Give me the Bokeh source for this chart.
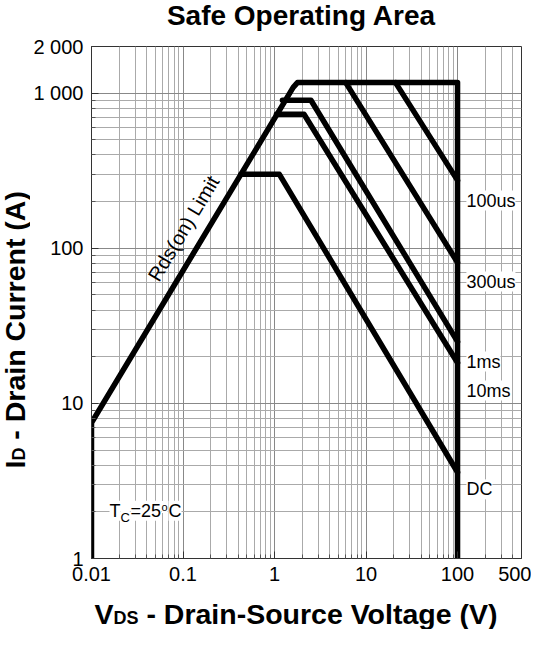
import math
from bokeh.plotting import figure
from bokeh.layouts import column, row
from bokeh.models import FixedTicker, Label
from bokeh.core.properties import value
from bokeh.embed import file_html
from bokeh.resources import INLINE

# ---------------- data ----------------
# outer envelope: left edge, Rds(on) limit, current limit, 100 V limit
env_v = [0.01, 0.01, 1.6, 1.78, 100, 100]
env_i = [1, 7.5, 1090, 1170, 1170, 1]
us100_v = [21, 100]
us100_i = [1170, 274]
us300_v = [6, 100]
us300_i = [1170, 81]
ms1_v = [1.22, 2.5, 100]
ms1_i = [900, 900, 25]
ms10_v = [1.05, 2.1, 100]
ms10_i = [732, 732, 18.3]
dc_v = [0.43, 1.13, 100]
dc_i = [300, 300, 3.6]

curve_names = ["100us", "300us", "1ms", "10ms", "DC"]
curve_label_v = [125, 125, 125, 125, 125]
curve_label_i = [203, 61, 18.6, 12.1, 2.79]

x_ticks = [0.01, 0.1, 1, 10, 100, 500]
x_tick_labels = ["0.01", "0.1", "1", "10", "100", "500"]
y_ticks = [1, 10, 100, 1000, 2000]
y_tick_labels = ["1", "10", "100", "1 000", "2 000"]
x_minor = [k * 10.0 ** e for e in range(-2, 2) for k in range(2, 10)] + [200, 300, 400]
y_minor = [k * 10.0 ** e for e in range(0, 3) for k in range(2, 10)]

title_text = "Safe Operating Area"
# (text, is_subscript, gap before in em of the main font)
x_title = [("V", 0, 0), ("DS", 1, 0), ("- Drain-Source Voltage (V)", 0, 0.278)]
y_title = [("I", 0, 0), ("D", 1, 0), ("- Drain Current (A)", 0, 0.278)]

# ---------------- layout (page px, 8 px body margin) ----------------
FONT = "Liberation Sans"
TOTAL_W, TOTAL_H = 531, 629
TITLE_H = 33
YT_W = 30
FRAME_W, FRAME_H = 430, 512
P_TOP, P_BOTTOM = 13, 32
P_LEFT = 99 - 8 - YT_W
P_W = TOTAL_W - YT_W
P_H = P_TOP + FRAME_H + P_BOTTOM
XT_H = TOTAL_H - TITLE_H - P_H
X0, X1, Y0, Y1 = 0.01, 500, 1, 2000
PX_DEC_X = FRAME_W / math.log10(X1 / X0)
PX_DEC_Y = FRAME_H / math.log10(Y1 / Y0)
FL_PAGE = 8 + YT_W + P_LEFT
FB_PAGE = 8 + TITLE_H + P_TOP + FRAME_H
MID = 0.3465   # em offset from baseline to the middle of the text box


def xd(px):  # page px -> data x
    return 10 ** (math.log10(X0) + (px - FL_PAGE) / PX_DEC_X)


def yd(py):  # page px -> data y
    return 10 ** (math.log10(Y0) + (FB_PAGE - py) / PX_DEC_Y)


def text_fig(w, h):
    f = figure(frame_width=w, frame_height=h, x_range=(0, w), y_range=(0, h),
               min_border=0, x_axis_location=None, y_axis_location=None,
               toolbar_location=None, output_backend="svg", title=None)
    f.outline_line_color = None
    f.xgrid.visible = False
    f.ygrid.visible = False
    return f


BOLD = {" ": 278, "-": 333, "(": 333, ")": 333, "A": 722, "C": 722, "D": 722, "I": 278,
        "S": 667, "V": 667, "a": 556, "c": 556, "e": 556, "g": 611, "i": 278, "l": 278,
        "n": 611, "o": 611, "r": 389, "t": 333, "u": 611}


def bw(s, fs):
    return sum(BOLD.get(c, 556) for c in s) * fs / 1000.0


SUB = 18

# ---- title figure ----
TFS = 28
tf = text_fig(TOTAL_W, TITLE_H)
t_mid = 33 - MID * TFS
tf.text(x=[309 - 8], y=[TITLE_H - (t_mid - 8)], text=[title_text],
        text_font=value(FONT), text_font_size=value(f"{TFS}px"), text_font_style="bold",
        text_color="black", text_align="center", text_baseline="middle")

# ---- y title figure ----
YBIG = 28.5
yf = text_fig(YT_W, P_H)
top_page = 8 + TITLE_H
py = 463
for txt, sub, gap in y_title:
    fs = SUB if sub else YBIG
    py -= gap * YBIG
    base_x = 32 + (1 if sub else 0)
    mid_x = base_x - MID * fs
    yf.text(x=[mid_x - 8], y=[P_H - (py - top_page)], text=[txt], angle=[math.pi / 2],
            text_font=value(FONT), text_font_size=value(f"{fs}px"), text_font_style="bold",
            text_color="black", text_align="left", text_baseline="middle")
    py -= bw(txt, fs)

# ---- x title figure ----
XBIG = 28.5
xf = text_fig(TOTAL_W, XT_H)
xt_top = 8 + TITLE_H + P_H
px = 102
for txt, sub, gap in x_title:
    fs = SUB if sub else XBIG
    px += gap * XBIG
    base_y = 631 + (1 if sub else 0)
    mid_y = base_y - MID * fs
    xf.text(x=[px - 8], y=[XT_H - (mid_y - xt_top)], text=[txt],
            text_font=value(FONT), text_font_size=value(f"{fs}px"), text_font_style="bold",
            text_color="black", text_align="left", text_baseline="middle")
    px += bw(txt, fs)

# ---- main chart ----
p = figure(frame_width=FRAME_W, frame_height=FRAME_H,
           min_border_left=P_LEFT, min_border_top=P_TOP,
           min_border_right=P_W - P_LEFT - FRAME_W, min_border_bottom=P_BOTTOM,
           x_axis_type="log", y_axis_type="log",
           x_range=(X0, X1), y_range=(Y0, Y1),
           output_backend="svg", toolbar_location=None, title=None)

p.outline_line_color = "#333333"
p.outline_line_width = 1

for ax, ticks, labels, minor in ((p.xaxis[0], x_ticks, x_tick_labels, x_minor),
                                 (p.yaxis[0], y_ticks, y_tick_labels, y_minor)):
    ax.ticker = FixedTicker(ticks=ticks, minor_ticks=minor)
    ax.major_label_overrides = {t: l for t, l in zip(ticks, labels)}
    ax.major_label_text_font = FONT
    ax.major_label_text_font_size = "20px"
    ax.major_label_text_color = "black"
    ax.major_label_standoff = 8
    ax.axis_line_color = "#333333"
    ax.major_tick_in = 7
    ax.major_tick_out = 0
    ax.minor_tick_in = 4
    ax.minor_tick_out = 0
    ax.major_tick_line_color = "#333333"
    ax.minor_tick_line_color = "#555555"

for g in (p.xgrid[0], p.ygrid[0]):
    g.grid_line_color = "#888888"
    g.grid_line_width = 1
    g.minor_grid_line_color = "#aaaaaa"
    g.minor_grid_line_width = 1

LW = 5.5
for xs, ys in ((env_v, env_i), (us100_v, us100_i), (us300_v, us300_i),
               (ms1_v, ms1_i), (ms10_v, ms10_i), (dc_v, dc_i)):
    p.line(xs, ys, line_width=LW, line_color="black", line_join="round", line_cap="round")

for name, lv, li in zip(curve_names, curve_label_v, curve_label_i):
    p.add_layout(Label(x=lv, y=li, text=name, text_font=FONT,
                       text_font_size="18px", text_color="black",
                       text_align="left", text_baseline="middle",
                       background_fill_color="white"))

ang = math.atan(PX_DEC_Y * 0.983 / PX_DEC_X)
p.add_layout(Label(x=xd(191), y=yd(236), text="Rds(on) Limit", angle=ang,
                   text_font=FONT, text_font_size="20px",
                   text_color="black", text_align="center", text_baseline="middle"))

# (text, font px, middle y in page px, left x in page px)
tc_parts = [("T", 18, 518.3, 117), ("C", 13, 525, 128), ("=25", 18, 518.3, 138),
            ("o", 11, 514.5, 169), ("C", 18, 518.3, 176)]
for txt, fs, my, lx in tc_parts:
    p.add_layout(Label(x=xd(lx), y=yd(my), text=txt, text_font=FONT,
                       text_font_size=f"{fs}px", text_color="black",
                       text_align="left", text_baseline="middle",
                       background_fill_color="white"))

layout = column(tf, row(yf, p), xf)
open("out.html", "w").write(file_html(layout, INLINE))
